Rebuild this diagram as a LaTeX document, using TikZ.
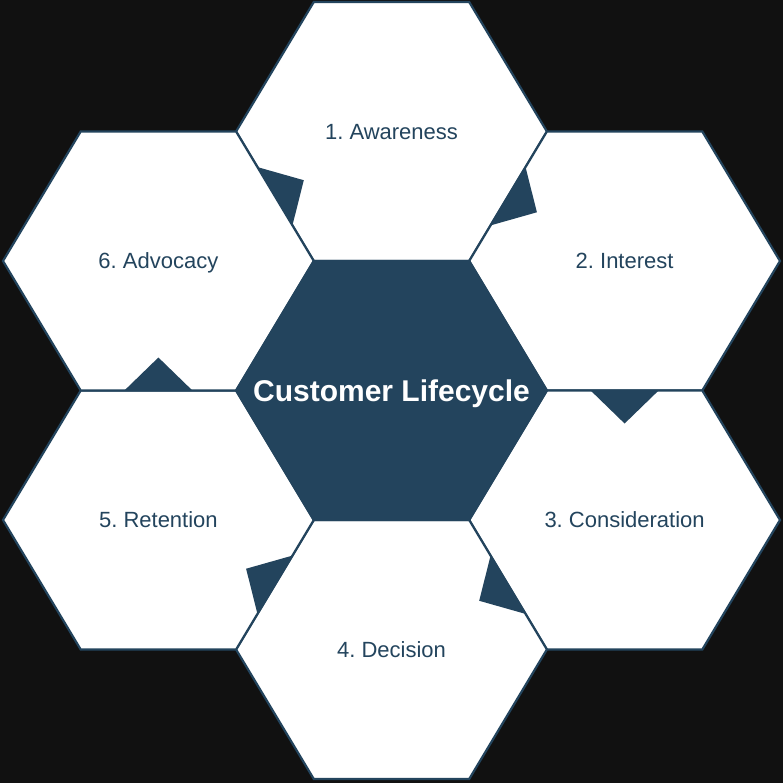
\documentclass[tikz,border=0pt]{standalone}
\usepackage{fontspec}
\setmainfont{Liberation Sans}
\usetikzlibrary{calc}
\definecolor{navy}{HTML}{23445D}
\definecolor{bgdark}{HTML}{111111}
\frenchspacing
\begin{document}
\begin{tikzpicture}[x=1pt,y=-1pt,
  hexcell/.style={fill=white,draw=navy,line width=2.2pt,line join=miter},
  hexcore/.style={fill=navy,draw=navy,line width=2.2pt,line join=miter},
  flowtip/.style={fill=navy,draw=none},
  celllabel/.style={text=navy,anchor=base,inner sep=0pt,font=\frenchspacing\fontsize{22}{26}\selectfont},
  corelabel/.style={text=white,anchor=base,inner sep=0pt,font=\bfseries\fontsize{30}{34}\selectfont}]
\fill[bgdark] (0,0) rectangle (783,783);
\useasboundingbox (0,0) rectangle (783,783);
\def\R{155.4}\def\H{129.5}
\foreach \n/\cx/\cy in {c/391.5/390.5, a/391.5/131.5, i/624.6/261, co/624.6/520, d/391.5/649.5, re/158.4/520, ad/158.4/261}{
  \coordinate (\n) at (\cx,\cy);
  \coordinate (\n-r) at (\cx+\R,\cy);
  \coordinate (\n-tr) at (\cx+0.5*\R,\cy-\H);
  \coordinate (\n-tl) at (\cx-0.5*\R,\cy-\H);
  \coordinate (\n-l) at (\cx-\R,\cy);
  \coordinate (\n-bl) at (\cx-0.5*\R,\cy+\H);
  \coordinate (\n-br) at (\cx+0.5*\R,\cy+\H);
}
\foreach \n in {a,i,co,d,re,ad}{
  \draw[hexcell] (\n-r) -- (\n-tr) -- (\n-tl) -- (\n-l) -- (\n-bl) -- (\n-br) -- cycle;
}
\draw[hexcore] (c-r) -- (c-tr) -- (c-tl) -- (c-l) -- (c-bl) -- (c-br) -- cycle;
\foreach \p/\q/\t in {a-r/a-br/i, i-bl/i-br/co, co-l/co-bl/d, d-tl/d-l/re, re-tl/re-tr/ad, ad-r/ad-tr/a}{
  \coordinate (m) at ($(\p)!0.5!(\q)$);
  \fill[flowtip] ($(m)!34pt!(\p)$) -- ($(m)!33pt!(\t)$) -- ($(m)!34pt!(\q)$) -- cycle;
}
\node[corelabel] (tc) at ($(c)+(0,10.7)$) {Customer Lifecycle};
\node[celllabel] (ta) at ($(a)+(0,7.8)$) {1. Awareness};
\node[celllabel] (ti) at ($(i)+(0,7.8)$) {2. Interest};
\node[celllabel] (tco) at ($(co)+(0,7.8)$) {3. Consideration};
\node[celllabel] (td) at ($(d)+(0,7.8)$) {4. Decision};
\node[celllabel] (tre) at ($(re)+(0,7.8)$) {5. Retention};
\node[celllabel] (tad) at ($(ad)+(0,7.8)$) {6. Advocacy};
\end{tikzpicture}
\end{document}
